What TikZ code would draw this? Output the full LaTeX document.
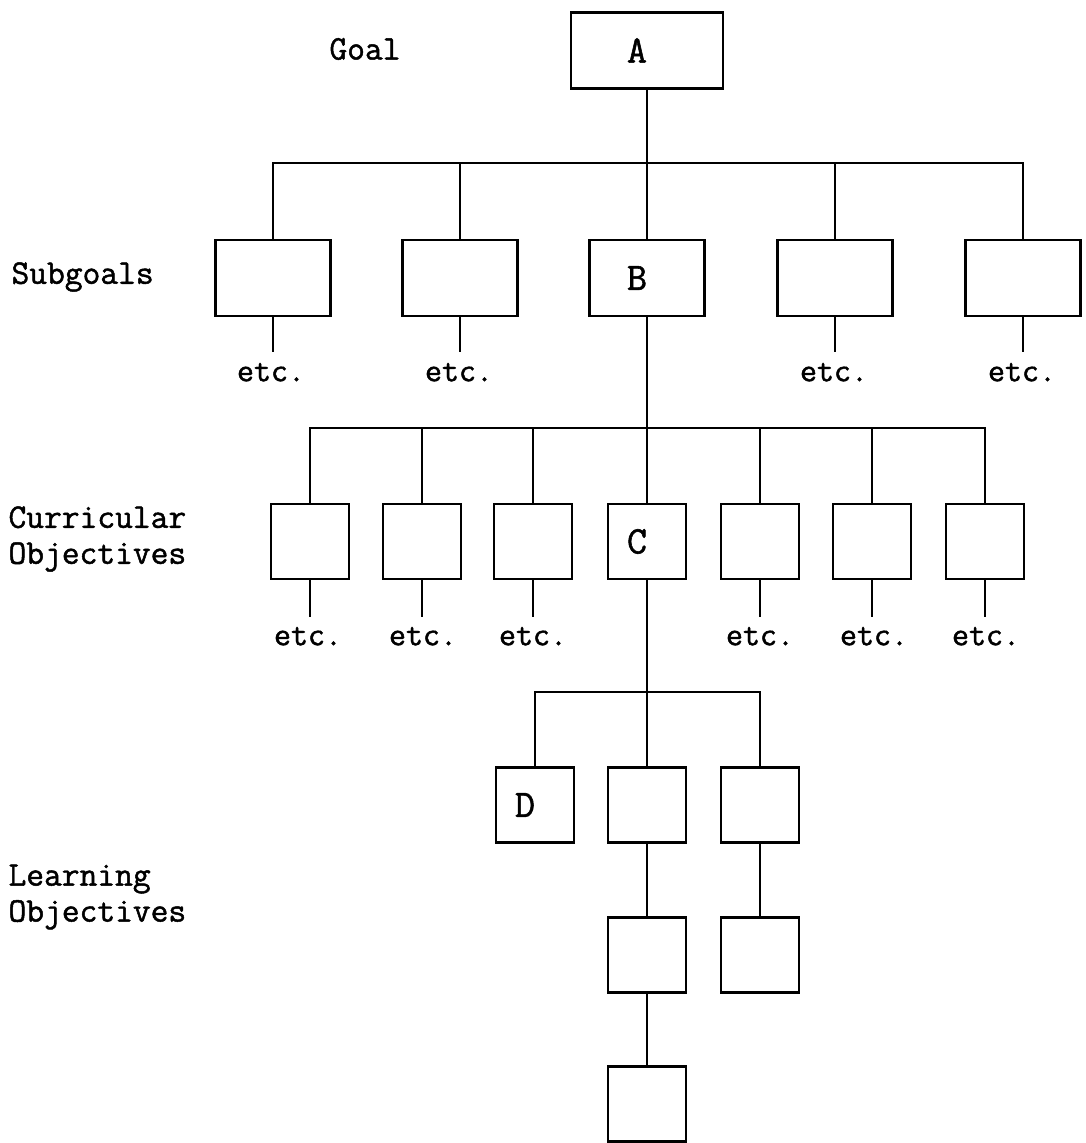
\documentclass[tikz,border=0pt]{standalone}
\usepackage{fontspec}
\newfontfamily\tw{Latin Modern Mono}[FakeBold=1.4]
\begin{document}
\begin{tikzpicture}[x=1pt,y=-1pt,
  sgbox/.style={draw, line width=2.8pt, inner sep=0pt, minimum width=115pt, minimum height=76pt},
  cbox/.style={draw, line width=2.8pt, inner sep=0pt, minimum width=78pt, minimum height=75pt},
  conn/.style={line width=2.5pt},
  lbl/.style={font=\tw\fontsize{34.5}{36}\selectfont, align=left},
  etcl/.style={font=\tw\fontsize{33}{36}\selectfont, anchor=north, inner sep=1pt, text depth=0pt},
  letter/.style={label={[xshift=-10pt, font=\tw\fontsize{39}{40}\selectfont]center:#1}}
]
\useasboundingbox (0,0) rectangle (1085,1143);

% labels
\node[lbl] (goal) at (365,49) {Goal};
\node[lbl, anchor=west] (subgoals) at (8,277) {Subgoals};
\node[lbl, anchor=west] (curr) at (5,539) {Curricular\\Objectives};
\node[lbl, anchor=west] (learn) at (5,897) {Learning\\Objectives};

% goal
\node[sgbox, minimum width=152pt, letter=A] (A) at (647,50.5) {};

% subgoals
\node[sgbox] (s1) at (273,278) {};
\node[sgbox] (s2) at (460,278) {};
\node[sgbox, letter=B] (B) at (647,278) {};
\node[sgbox] (s4) at (835,278) {};
\node[sgbox] (s5) at (1023,278) {};
\coordinate (j1) at (647,163);

\node[etcl, text height=28pt] (e1) at (271,352) {etc.};
\node[etcl, text height=28pt] (e2) at (459,352) {etc.};
\node[etcl, text height=28pt] (e4) at (834,352) {etc.};
\node[etcl, text height=28pt] (e5) at (1022,352) {etc.};

% curricular objectives
\node[cbox] (c1) at (310,541.5) {};
\node[cbox] (c2) at (422,541.5) {};
\node[cbox] (c3) at (533,541.5) {};
\node[cbox, letter=C] (C) at (647,541.5) {};
\node[cbox] (c5) at (760,541.5) {};
\node[cbox] (c6) at (872,541.5) {};
\node[cbox] (c7) at (985,541.5) {};
\coordinate (j2) at (647,428);

\node[etcl, text height=27pt] (f1) at (308,617) {etc.};
\node[etcl, text height=27pt] (f2) at (423,617) {etc.};
\node[etcl, text height=27pt] (f3) at (533,617) {etc.};
\node[etcl, text height=27pt] (f5) at (760,617) {etc.};
\node[etcl, text height=27pt] (f6) at (874,617) {etc.};
\node[etcl, text height=27pt] (f7) at (986,617) {etc.};

% learning objectives
\node[cbox, letter=D] (D) at (535,805) {};
\node[cbox] (d2) at (647,805) {};
\node[cbox] (d3) at (760,805) {};
\coordinate (j3) at (647,692);
\node[cbox] (l1) at (647,955) {};
\node[cbox] (l2) at (760,955) {};
\node[cbox] (m1) at (647,1104) {};

% connectors
\draw[conn] (A.south) -- (B.north);
\draw[conn] (s1.north) |- (j1) -| (s5.north);
\draw[conn] (s2.north) -- (s2.north |- j1);
\draw[conn] (s4.north) -- (s4.north |- j1);
\draw[conn] (s1.south) -- (s1.south |- e1.north);
\draw[conn] (s2.south) -- (s2.south |- e2.north);
\draw[conn] (s4.south) -- (s4.south |- e4.north);
\draw[conn] (s5.south) -- (s5.south |- e5.north);

\draw[conn] (B.south) -- (C.north);
\draw[conn] (c1.north) |- (j2) -| (c7.north);
\draw[conn] (c2.north) -- (c2.north |- j2);
\draw[conn] (c3.north) -- (c3.north |- j2);
\draw[conn] (c5.north) -- (c5.north |- j2);
\draw[conn] (c6.north) -- (c6.north |- j2);
\draw[conn] (c1.south) -- (c1.south |- f1.north);
\draw[conn] (c2.south) -- (c2.south |- f2.north);
\draw[conn] (c3.south) -- (c3.south |- f3.north);
\draw[conn] (c5.south) -- (c5.south |- f5.north);
\draw[conn] (c6.south) -- (c6.south |- f6.north);
\draw[conn] (c7.south) -- (c7.south |- f7.north);

\draw[conn] (C.south) -- (d2.north);
\draw[conn] (D.north) |- (j3) -| (d3.north);
\draw[conn] (d2.south) -- (l1.north);
\draw[conn] (d3.south) -- (l2.north);
\draw[conn] (l1.south) -- (m1.north);
\end{tikzpicture}
\end{document}
